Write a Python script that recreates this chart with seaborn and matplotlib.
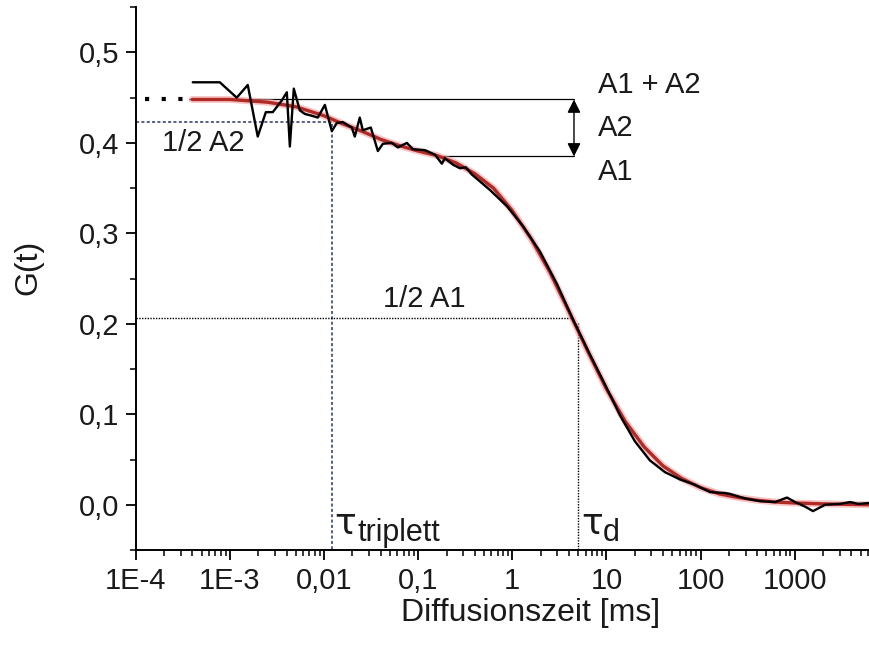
import numpy as np
import pandas as pd
import matplotlib
matplotlib.use("Agg")
import matplotlib.pyplot as plt
from matplotlib.ticker import FixedLocator, FixedFormatter, LogLocator, MultipleLocator
import seaborn as sns

# measured data (log10 of time in ms, G)
meas_log_t = [-3.394, -3.107, -2.927, -2.810, -2.704, -2.618, -2.544, -2.448, -2.395, -2.363,
              -2.321, -2.257, -2.204, -2.130, -2.066, -1.991, -1.917, -1.864, -1.800, -1.705,
              -1.673, -1.620, -1.588, -1.503, -1.428, -1.375, -1.279, -1.216, -1.120, -1.056,
              -0.929, -0.822, -0.748, -0.716, -0.631, -0.557, -0.493, -0.429, -0.238, -0.057,
              0.113, 0.293, 0.474, 0.644, 0.825, 0.984, 1.143, 1.303, 1.462, 1.622,
              1.781, 1.941, 2.100, 2.259, 2.312, 2.472, 2.631, 2.791, 2.918, 3.003,
              3.109, 3.194, 3.322, 3.481, 3.588, 3.673, 3.800]
meas_g = [0.467, 0.467, 0.450, 0.464, 0.407, 0.434, 0.434, 0.447, 0.456, 0.396,
          0.460, 0.436, 0.432, 0.430, 0.428, 0.442, 0.413, 0.422, 0.423, 0.417,
          0.407, 0.428, 0.414, 0.417, 0.391, 0.399, 0.400, 0.395, 0.400, 0.393,
          0.392, 0.387, 0.377, 0.383, 0.376, 0.372, 0.373, 0.365, 0.348, 0.330,
          0.308, 0.280, 0.244, 0.205, 0.166, 0.133, 0.099, 0.070, 0.049, 0.036,
          0.028, 0.022, 0.014, 0.013, 0.012, 0.007, 0.004, 0.003, 0.008, 0.003,
          -0.002, -0.007, 0.000, 0.001, 0.003, 0.001, 0.002]

# fitted curve
fit_log_t = [-3.40, -3.0, -2.6, -2.3, -2.0, -1.8, -1.6, -1.4, -1.2, -1.0, -0.8, -0.6,
             -0.4, -0.2, 0.0, 0.2, 0.4, 0.6, 0.8, 1.0, 1.2, 1.4, 1.6, 1.8, 2.0, 2.2,
             2.4, 2.6, 2.8, 3.0, 3.3, 3.8]
fit_g = [0.448, 0.448, 0.445, 0.440, 0.430, 0.421, 0.413, 0.404, 0.397, 0.391, 0.386, 0.378,
         0.366, 0.350, 0.325, 0.294, 0.257, 0.214, 0.170, 0.128, 0.092, 0.064, 0.043, 0.029,
         0.019, 0.012, 0.008, 0.005, 0.003, 0.002, 0.001, 0.000]

# annotation levels
g_a1a2 = 0.448
g_a1 = 0.385
g_half_a2 = 0.423
g_half_a1 = 0.206
t_triplett = 0.0122
t_d = 5.0

xtick_vals = [1e-4, 1e-3, 1e-2, 1e-1, 1, 10, 100, 1000]
xtick_labels = ['1E-4', '1E-3', '0,01', '0,1', '1', '10', '100', '1000']
ytick_vals = [0.0, 0.1, 0.2, 0.3, 0.4, 0.5]
ytick_labels = ['0,0', '0,1', '0,2', '0,3', '0,4', '0,5']

sns.set_style("ticks")
plt.rcParams['font.family'] = ['Liberation Sans', 'DejaVu Sans']
plt.rcParams['text.color'] = '#1a1a1a'
plt.rcParams['axes.labelcolor'] = '#1a1a1a'

meas = pd.DataFrame({'t': np.power(10.0, meas_log_t), 'G': meas_g})
fit = pd.DataFrame({'t': np.power(10.0, fit_log_t), 'G': fit_g})

fig = plt.figure(figsize=(8.7, 6.54), dpi=100)
ax = fig.add_axes([0.156, 0.159, 0.844, 0.830])
ax.set_xscale('log')

# reference lines
ax.plot([1.25e-4, 3.7e-4], [g_a1a2, g_a1a2], color='black', lw=3, ls=(0, (1, 3)),
        dash_capstyle='butt')
ax.plot([3.7e-4, 4.52], [g_a1a2, g_a1a2], color='black', lw=0.9)
ax.plot([0.17, 4.52], [g_a1, g_a1], color='black', lw=0.9)
ax.annotate('', xy=(4.52, g_a1), xytext=(4.52, g_a1a2),
            arrowprops=dict(arrowstyle='<|-|>', color='black', lw=1.0,
                            mutation_scale=20, shrinkA=0, shrinkB=0))
ax.plot([1e-4, t_triplett, t_triplett], [g_half_a2, g_half_a2, -0.05],
        color='#2b3566', lw=1.1, ls=(0, (2, 1.5)))
ax.plot([1e-4, 4.6], [g_half_a1, g_half_a1], color='black', lw=1.0, ls=(0, (1, 1)))
ax.plot([t_d, t_d], [0.201, -0.05], color='black', lw=1.0, ls=(0, (1, 1)))

# curves
sns.lineplot(data=fit, x='t', y='G', ax=ax, color='#f4a0a0', lw=5, alpha=0.6)
sns.lineplot(data=fit, x='t', y='G', ax=ax, color='#b02a26', lw=2.4)
sns.lineplot(data=meas, x='t', y='G', ax=ax, color='black', lw=1.7)

# texts
fs = 21
ax.text(8.1, 0.464, 'A1 + A2', fontsize=fs, ha='left', va='center')
ax.text(8.1, 0.416, 'A2', fontsize=fs, ha='left', va='center')
ax.text(8.1, 0.368, 'A1', fontsize=fs, ha='left', va='center')
ax.text(1.9e-4, 0.400, '1/2 A2', fontsize=fs, ha='left', va='center')
ax.text(0.042, 0.227, '1/2 A1', fontsize=fs, ha='left', va='center')
ax.text(0.0130, -0.021, 'τ', fontsize=26, ha='left', va='center', family='DejaVu Sans')
ax.text(0.0226, -0.040, 'triplett', fontsize=22, ha='left', va='baseline')
ax.text(5.36, -0.021, 'τ', fontsize=26, ha='left', va='center', family='DejaVu Sans')
ax.text(9.1, -0.040, 'd', fontsize=22, ha='left', va='baseline')

ax.set_xlim(1e-4, 6300)
ax.set_ylim(-0.05, 0.55)
ax.xaxis.set_major_locator(FixedLocator(xtick_vals))
ax.xaxis.set_major_formatter(FixedFormatter(xtick_labels))
ax.xaxis.set_minor_locator(LogLocator(base=10, subs=np.arange(2, 10), numticks=20))
ax.yaxis.set_major_locator(FixedLocator(ytick_vals))
ax.yaxis.set_major_formatter(FixedFormatter(ytick_labels))
ax.yaxis.set_minor_locator(MultipleLocator(0.05))
ax.tick_params(axis='both', which='major', length=7, width=1.3, labelsize=21,
               direction='out', color='black', labelcolor='#1a1a1a', pad=5)
ax.tick_params(axis='both', which='minor', length=4, width=1.1, direction='out', color='black')
for s in ['left', 'bottom']:
    ax.spines[s].set_linewidth(1.4)
    ax.spines[s].set_color('black')
sns.despine(ax=ax)

ax.set_xlabel('Diffusionszeit [ms]', fontsize=23)
ax.set_ylabel('G(t)', fontsize=23)
ax.xaxis.set_label_coords(0.538, -0.088)
ax.yaxis.set_label_coords(-0.126, 0.521)

fig.savefig('out.png', dpi=100)
